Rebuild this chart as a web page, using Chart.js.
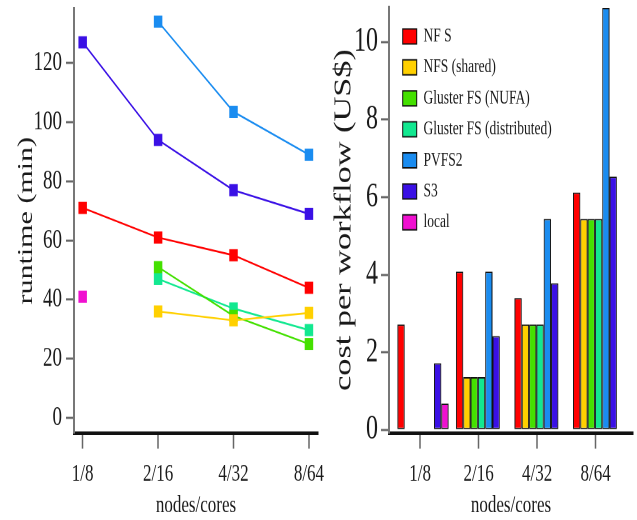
<!DOCTYPE html>
<html><head><meta charset="utf-8">
<script src="https://cdn.jsdelivr.net/npm/chart.js@4.4.1/dist/chart.umd.min.js"></script>
<style>
html,body{margin:0;padding:0;background:#fff;overflow:hidden}
#wrap{position:relative;width:637px;height:520px;background:#fff}
canvas{position:absolute;top:0}
</style></head><body>
<div id="wrap">
<canvas id="c1" width="330" height="364" style="left:0px;width:330px;height:520px"></canvas>
<canvas id="c2" width="317" height="364" style="left:320px;width:317px;height:520px"></canvas>
</div>
<script>
// ---------- data ----------
const categories = ['1/8', '2/16', '4/32', '8/64'];
const seriesNames = ['NF S', 'NFS (shared)', 'Gluster FS (NUFA)', 'Gluster FS (distributed)', 'PVFS2', 'S3', 'local'];
const seriesColors = ['#ff0000', '#ffd000', '#44e000', '#12e890', '#1a8cf0', '#3a10e5', '#f010d0'];

// runtime (min)
const runtimeNFS         = [71, 61, 55, 44];
const runtimeNFSShared   = [null, 36, 33, 35.5];
const runtimeGlusterNUFA = [null, 51, 34.5, 25];
const runtimeGlusterDist = [null, 47, 37, 29.7];
const runtimePVFS2       = [null, 134, 103.5, 89];
const runtimeS3          = [127, 94, 77, 69];
const runtimeLocal       = [41, null, null, null];

// cost per workflow (US$)
const costNFS         = [2.72, 4.08, 3.40, 6.12];
const costNFSShared   = [null, 1.36, 2.72, 5.44];
const costGlusterNUFA = [null, 1.36, 2.72, 5.44];
const costGlusterDist = [null, 1.36, 2.72, 5.44];
const costPVFS2       = [null, 4.08, 5.44, 10.88];
const costS3          = [1.72, 2.42, 3.78, 6.53];
const costLocal       = [0.68, null, null, null];

const runtimeTicks = [0, 20, 40, 60, 80, 100, 120];
const costTicks = [0, 2, 4, 6, 8, 10];
const categoryIndex = [0, 1, 2, 3];
const costTickShift = -0.05;

const runtimeSeries = [runtimeNFS, runtimeNFSShared, runtimeGlusterNUFA, runtimeGlusterDist, runtimePVFS2, runtimeS3, runtimeLocal];
const costSeries = [costNFS, costNFSShared, costGlusterNUFA, costGlusterDist, costPVFS2, costS3, costLocal];

// ---------- chart ----------
const SERIF = "'Liberation Serif', 'Times New Roman', serif";
const INK = '#1a1a1a';
const toXY = arr => arr.map((v, i) => ({x: categoryIndex[i], y: v}));
const noPadX = s => { s.height = 61; s.paddingLeft = 0; s.paddingRight = 0; s.paddingTop = 0; s.paddingBottom = 0; };

const legendShift = {
  id: 'legendShift',
  afterLayout(chart) {
    const lg = chart.legend;
    if (!lg || !lg.options.display) return;
    lg.left = chart.chartArea.left + 5.5;
    lg.top = chart.chartArea.top + 5.5;
    lg.bottom = chart.chartArea.bottom;
  }
};

new Chart(document.getElementById('c1'), {
  type: 'line',
  data: {
    datasets: runtimeSeries.map((arr, k) => ({
      label: seriesNames[k],
      data: toXY(arr),
      borderColor: seriesColors[k],
      backgroundColor: seriesColors[k],
      pointBackgroundColor: seriesColors[k],
      pointBorderColor: seriesColors[k],
      pointStyle: 'rect',
      pointRadius: 6,
      pointBorderWidth: 0,
      borderWidth: 1.3,
      spanGaps: false,
      tension: 0
    }))
  },
  options: {
    responsive: false,
    animation: false,
    devicePixelRatio: 2,
    layout: {padding: {left: 0, right: 12, top: 5, bottom: 0}},
    plugins: {legend: {display: false}, tooltip: {enabled: false}},
    scales: {
      x: {
        type: 'linear', min: -0.115, max: 3.12, offset: false,
        afterBuildTicks: s => { s.ticks = categoryIndex.map(v => ({value: v})); },
        afterFit: noPadX,
        ticks: {callback: (v, i) => categories[i], font: {family: SERIF, size: 17}, color: INK, padding: 8, maxRotation: 0, autoSkip: false},
        grid: {offset: false, drawOnChartArea: false, drawTicks: true, tickLength: 11, tickColor: '#666', tickWidth: 1.5},
        border: {display: true, color: '#111', width: 2.5},
        title: {display: true, text: 'nodes/cores', font: {family: SERIF, size: 17}, color: INK, padding: {top: 0, bottom: 0}}
      },
      y: {
        min: -5.05, max: 138.4,
        afterBuildTicks: s => { s.ticks = runtimeTicks.map(v => ({value: v})); },
        afterFit: s => { s.width = 74; s.paddingTop = 0; s.paddingBottom = 0; },
        ticks: {font: {family: SERIF, size: 19}, color: INK, padding: 4},
        grid: {drawOnChartArea: false, drawTicks: true, tickLength: 8, tickColor: '#666', tickWidth: 1.5},
        border: {display: true, color: '#777', width: 2},
        title: {display: true, text: 'runtime (min)', font: {family: SERIF, size: 21}, color: INK, padding: {top: 14, bottom: 0}}
      }
    }
  }
});

new Chart(document.getElementById('c2'), {
  type: 'bar',
  data: {
    datasets: costSeries.map((arr, k) => ({
      label: seriesNames[k],
      data: toXY(arr),
      backgroundColor: seriesColors[k],
      borderColor: '#111',
      borderWidth: 1,
      borderSkipped: false,
      categoryPercentage: 0.875,
      barPercentage: 1
    }))
  },
  options: {
    responsive: false,
    animation: false,
    devicePixelRatio: 2,
    layout: {padding: {left: 0, right: 4, top: 5, bottom: 0}},
    plugins: {
      tooltip: {enabled: false},
      legend: {
        display: true, position: 'chartArea', align: 'start', fullSize: false,
        labels: {boxWidth: 14, boxHeight: 10.5, padding: 8.2, color: INK, font: {family: SERIF, size: 13.5}}
      }
    },
    scales: {
      x: {
        type: 'linear', min: -0.581, max: 3.588, offset: false,
        afterBuildTicks: s => { s.ticks = categoryIndex.map(v => ({value: v + costTickShift})); },
        afterFit: noPadX,
        ticks: {callback: (v, i) => categories[i], font: {family: SERIF, size: 17}, color: INK, padding: 8, maxRotation: 0, autoSkip: false},
        grid: {offset: false, drawOnChartArea: false, drawTicks: true, tickLength: 11, tickColor: '#666', tickWidth: 1.5},
        border: {display: true, color: '#111', width: 2.5},
        title: {display: true, text: 'nodes/cores', font: {family: SERIF, size: 17}, color: INK, padding: {top: 0, bottom: 0}}
      },
      y: {
        min: -0.077, max: 10.9,
        afterBuildTicks: s => { s.ticks = costTicks.map(v => ({value: v})); },
        afterFit: s => { s.width = 69; s.paddingTop = 0; s.paddingBottom = 0; },
        ticks: {font: {family: SERIF, size: 24}, color: INK, padding: 3},
        grid: {drawOnChartArea: false, drawTicks: true, tickLength: 8, tickColor: '#666', tickWidth: 1.5},
        border: {display: true, color: '#777', width: 2},
        title: {display: true, text: 'cost per workflow (US$)', font: {family: SERIF, size: 24}, color: INK, padding: {top: 10, bottom: 0}}
      }
    }
  },
  plugins: [legendShift]
});
</script>
</body></html>
